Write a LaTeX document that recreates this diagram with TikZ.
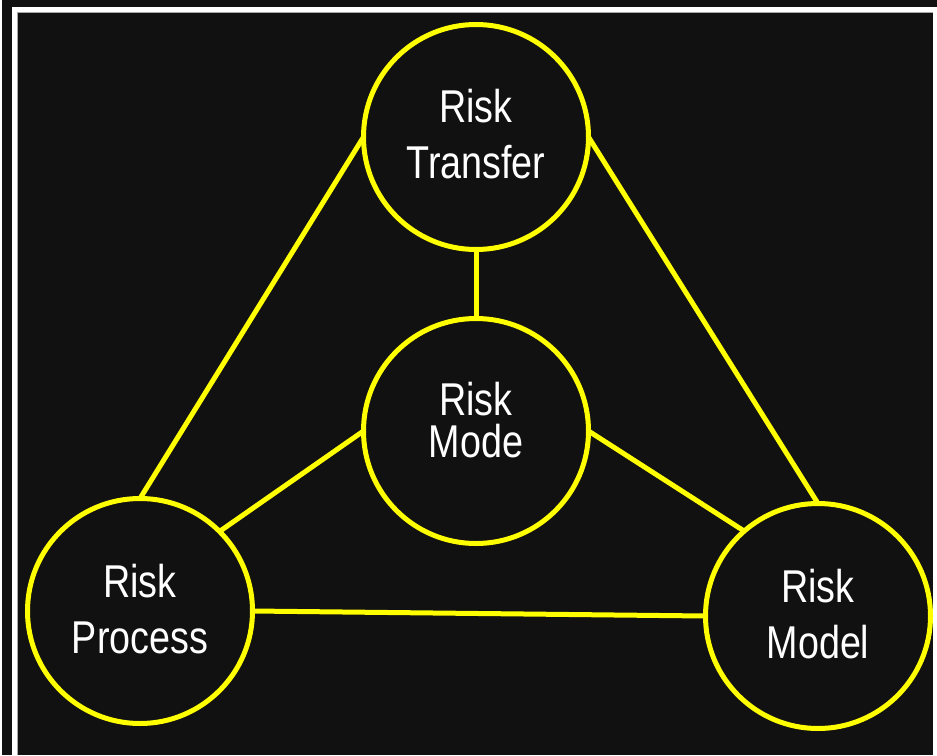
\documentclass[tikz,border=0pt]{standalone}
\usepackage{fontspec}
\usepackage{tikz}
\newfontfamily\riskfont[FakeStretch=0.82]{Liberation Sans}
\definecolor{boarddark}{HTML}{111111}
\definecolor{riskyellow}{HTML}{FFFF00}

\begin{document}
\begin{tikzpicture}[x=1pt,y=-1pt,-,line width=5pt,
  risk/.style={circle,draw=riskyellow,fill=boarddark,minimum size=225pt,inner sep=0pt,outer sep=0pt},
  words/.style={text=white,align=center,font=\riskfont\fontsize{46pt}{56pt}\selectfont},
  link/.style={draw=riskyellow,line width=5pt}]
  \useasboundingbox (0,0) rectangle (937,755);
  % board and frame
  \fill[boarddark] (0,0) rectangle (937,755);
  \draw[white,line width=1.5pt] (0.75,0) -- (0.75,755);
  \draw[white,line width=5.5pt] (14.5,760) -- (14.5,9.4) -- (935.5,9.4) -- (935.5,760);
  \draw[gray!70,line width=1pt] (17.7,755) -- (17.7,12.6) -- (932.8,12.6);

  \node [risk] (transfer) at (476,137) {};
  \node [risk] (mode) at (476,431) {};
  \node [risk] (process) at (140,611) {};
  \node [risk] (model) at (818,616) {};

  \node [words,yshift=3pt] (transfertext) at (transfer) {Risk\\Transfer};
  \node [words,yshift=11pt,font=\riskfont\fontsize{46pt}{42pt}\selectfont] (modetext) at (mode) {Risk\\Mode};
  \node [words,yshift=2pt] (processtext) at (process) {Risk\\Process};
  \node [words,yshift=2pt] (modeltext) at (model) {Risk\\Model};

  \path (transfer.south) edge[link] (mode.north);
  \path (transfer.west) edge[link] (process.north);
  \path (transfer.east) edge[link] (model.north);
  \path (mode.west) edge[link] (process.45);
  \path (mode.east) edge[link] (model.131);
  \path (process.east) edge[link] (model.west);
\end{tikzpicture}
\end{document}
